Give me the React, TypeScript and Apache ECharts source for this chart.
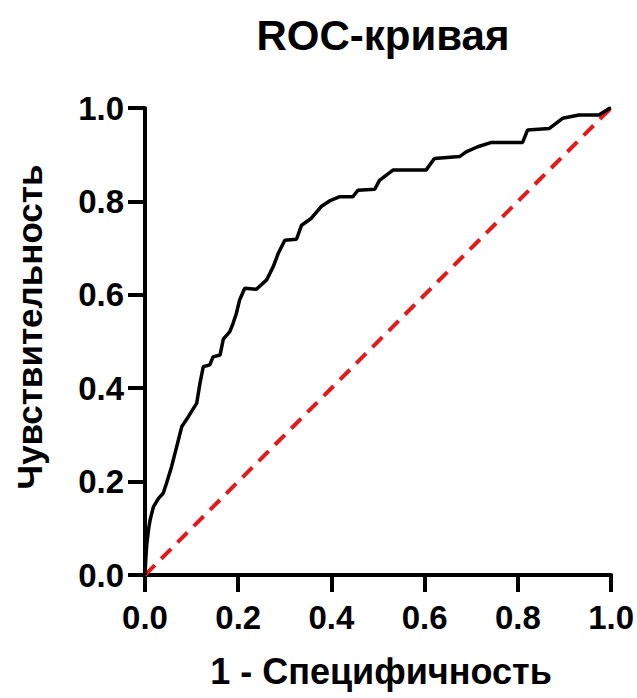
import React, { useEffect, useRef } from "react";
import * as echarts from "echarts";

const titleText = "ROC-кривая";
const xAxisTitle = "1 - Специфичность";
const yAxisTitle = "Чувствительность";

// ROC curve points
const fpr = [
  0, 0.002, 0.004, 0.008, 0.011, 0.018, 0.029, 0.039, 0.046, 0.057, 0.068, 0.079, 0.093, 0.111,
  0.118, 0.125, 0.139, 0.146, 0.161, 0.168, 0.182, 0.189, 0.196, 0.203, 0.214, 0.239,
  0.261, 0.275, 0.286, 0.3, 0.325, 0.336, 0.357, 0.378, 0.396, 0.418, 0.446, 0.457,
  0.493, 0.503, 0.532, 0.603, 0.621, 0.675, 0.689, 0.714, 0.742, 0.81, 0.821, 0.867,
  0.896, 0.931, 0.974, 0.996, 1.0,
];
const tpr = [
  0, 0.04, 0.068, 0.1, 0.118, 0.146, 0.164, 0.175, 0.196, 0.232, 0.275, 0.318, 0.339, 0.368,
  0.411, 0.446, 0.45, 0.467, 0.471, 0.505, 0.521, 0.539, 0.56, 0.589, 0.614, 0.612,
  0.632, 0.66, 0.689, 0.717, 0.719, 0.749, 0.764, 0.789, 0.801, 0.81, 0.81, 0.824,
  0.826, 0.845, 0.867, 0.867, 0.892, 0.896, 0.906, 0.917, 0.926, 0.926, 0.953, 0.956,
  0.978, 0.985, 0.985, 0.999, 1.0,
];
const refX = [0, 1];
const refY = [0, 1];

const FONT = "'Liberation Sans', Arial, Helvetica, sans-serif";

export default function App() {
  const ref = useRef<HTMLDivElement>(null);
  useEffect(() => {
    if (!ref.current) return;
    const chart = echarts.init(ref.current, null, { renderer: "svg" });
    const labelStyle = {
      fontFamily: FONT,
      fontWeight: "bold",
      fontSize: 33,
      color: "#000",
      formatter: (v: number) => v.toFixed(1),
    };
    const axisCommon = {
      type: "value",
      min: 0,
      max: 1,
      interval: 0.2,
      splitLine: { show: false },
      axisLine: { show: true, lineStyle: { color: "#000", width: 4 } },
      axisTick: { show: true, length: 17, lineStyle: { color: "#000", width: 4 } },
    };
    chart.setOption({
      animation: false,
      backgroundColor: "#fff",
      title: {
        text: titleText,
        left: 378,
        textAlign: "center",
        top: 9,
        textStyle: { fontFamily: FONT, fontWeight: "bold", fontSize: 42, color: "#000" },
      },
      grid: { left: 145, right: 25, top: 108, bottom: 123 },
      graphic: [
        {
          type: "text",
          x: 381,
          y: 671,
          style: {
            text: xAxisTitle,
            font: `bold 36px ${FONT}`,
            fill: "#000",
            textAlign: "center",
            textVerticalAlign: "middle",
          },
        },
        {
          type: "text",
          x: 29,
          y: 327,
          rotation: Math.PI / 2,
          style: {
            text: yAxisTitle,
            font: `bold 35px ${FONT}`,
            fill: "#000",
            textAlign: "center",
            textVerticalAlign: "middle",
          },
        },
      ],
      xAxis: {
        ...axisCommon,
        axisLabel: { ...labelStyle, margin: 26 },
      },
      yAxis: {
        ...axisCommon,
        axisLabel: { ...labelStyle, margin: 21 },
      },
      series: [
        {
          type: "line",
          data: refX.map((x, i) => [x, refY[i]]),
          showSymbol: false,
          symbol: "none",
          lineStyle: { color: "#e31a1c", width: 4, type: [14, 9] },
          z: 3,
        },
        {
          type: "line",
          data: fpr.map((x, i) => [x, tpr[i]]),
          showSymbol: false,
          symbol: "none",
          lineStyle: { color: "#000", width: 3.5 },
          z: 4,
        },
      ],
    });
    return () => chart.dispose();
  }, []);
  return (
    <div
      ref={ref}
      style={{ position: "fixed", left: 0, top: 0, width: 637, height: 698, background: "#fff" }}
    />
  );
}
